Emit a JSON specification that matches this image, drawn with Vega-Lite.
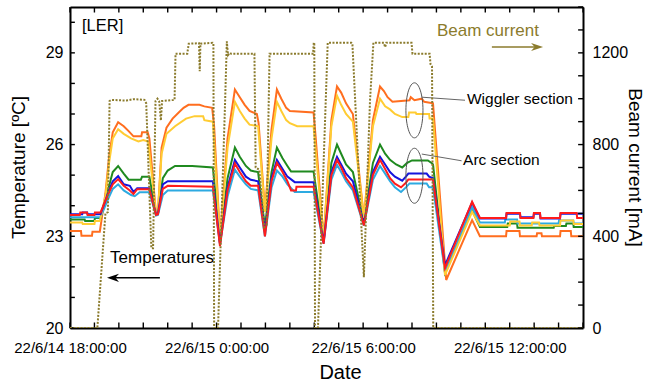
{
  "$schema": "https://vega.github.io/schema/vega-lite/v6.json",
  "width": 513,
  "height": 321,
  "autosize": {"type": "none"},
  "padding": {"left": 70, "top": 7, "right": 62, "bottom": 60},
  "background": "white",
  "config": {
    "font": "Liberation Sans",
    "view": {"stroke": null},
    "axis": {
      "grid": false, "domainColor": "#000", "domainWidth": 2,
      "labelFont": "Liberation Sans", "labelColor": "#000",
      "titleFont": "Liberation Sans", "titleColor": "#000", "titleFontWeight": "normal",
      "zindex": 1, "labelFlush": false
    }
  },
  "datasets": {
    "temps": [
      {"s":"orange","h":0,"T":23.17},{"s":"orange","h":0.45,"T":23.17},{"s":"orange","h":0.47,"T":23.02},{"s":"orange","h":0.9,"T":23.02},{"s":"orange","h":0.92,"T":23.15},{"s":"orange","h":1.22,"T":23.15},{"s":"orange","h":1.45,"T":24.4},{"s":"orange","h":1.6,"T":25.6},{"s":"orange","h":1.75,"T":26.4},{"s":"orange","h":1.97,"T":26.73},{"s":"orange","h":2.2,"T":26.6},{"s":"orange","h":2.4,"T":26.44},{"s":"orange","h":2.6,"T":26.27},{"s":"orange","h":2.92,"T":26.27},{"s":"orange","h":2.95,"T":26.4},{"s":"orange","h":3.18,"T":26.4},{"s":"orange","h":3.25,"T":26.2},{"s":"orange","h":3.52,"T":23.75},{"s":"orange","h":3.6,"T":23.8},{"s":"orange","h":3.75,"T":25.9},{"s":"orange","h":3.95,"T":26.55},{"s":"orange","h":4.2,"T":26.85},{"s":"orange","h":4.45,"T":27.05},{"s":"orange","h":4.65,"T":27.2},{"s":"orange","h":4.85,"T":27.3},{"s":"orange","h":5.3,"T":27.3},{"s":"orange","h":5.5,"T":27.25},{"s":"orange","h":5.82,"T":27.2},{"s":"orange","h":5.9,"T":26.6},{"s":"orange","h":6.14,"T":22.9},{"s":"orange","h":6.45,"T":26.2},{"s":"orange","h":6.75,"T":27.8},{"s":"orange","h":6.95,"T":27.55},{"s":"orange","h":7.15,"T":27.3},{"s":"orange","h":7.35,"T":27.1},{"s":"orange","h":7.65,"T":27.0},{"s":"orange","h":7.72,"T":26.7},{"s":"orange","h":7.98,"T":23.85},{"s":"orange","h":8.25,"T":26.5},{"s":"orange","h":8.47,"T":27.8},{"s":"orange","h":8.65,"T":27.5},{"s":"orange","h":8.85,"T":27.2},{"s":"orange","h":9.0,"T":27.1},{"s":"orange","h":9.97,"T":27.05},{"s":"orange","h":10.05,"T":26.3},{"s":"orange","h":10.38,"T":22.9},{"s":"orange","h":10.7,"T":26.8},{"s":"orange","h":10.93,"T":27.9},{"s":"orange","h":11.1,"T":27.7},{"s":"orange","h":11.3,"T":27.35},{"s":"orange","h":11.5,"T":27.1},{"s":"orange","h":11.58,"T":27.0},{"s":"orange","h":12.03,"T":23.6},{"s":"orange","h":12.4,"T":26.8},{"s":"orange","h":12.69,"T":27.9},{"s":"orange","h":12.85,"T":27.75},{"s":"orange","h":13.0,"T":27.55},{"s":"orange","h":13.2,"T":27.4},{"s":"orange","h":13.9,"T":27.45},{"s":"orange","h":13.95,"T":27.55},{"s":"orange","h":14.1,"T":27.45},{"s":"orange","h":14.4,"T":27.5},{"s":"orange","h":14.5,"T":27.4},{"s":"orange","h":14.86,"T":27.35},{"s":"orange","h":15.4,"T":21.57},{"s":"orange","h":16.46,"T":23.53},{"s":"orange","h":16.78,"T":23.0},{"s":"orange","h":17.85,"T":23.0},{"s":"orange","h":17.87,"T":23.17},{"s":"orange","h":18.4,"T":23.17},{"s":"orange","h":18.42,"T":23.0},{"s":"orange","h":19.1,"T":23.0},{"s":"orange","h":19.12,"T":23.1},{"s":"orange","h":19.3,"T":23.1},{"s":"orange","h":19.32,"T":23.0},{"s":"orange","h":20.06,"T":23.0},{"s":"orange","h":20.08,"T":23.17},{"s":"orange","h":20.5,"T":23.17},{"s":"orange","h":20.52,"T":23.0},{"s":"orange","h":21,"T":23.0},

      {"s":"green","h":0,"T":23.55},{"s":"green","h":0.6,"T":23.55},{"s":"green","h":0.62,"T":23.5},{"s":"green","h":1.0,"T":23.5},{"s":"green","h":1.02,"T":23.6},{"s":"green","h":1.25,"T":23.6},{"s":"green","h":1.55,"T":24.5},{"s":"green","h":1.75,"T":25.1},{"s":"green","h":1.97,"T":25.3},{"s":"green","h":2.2,"T":25.05},{"s":"green","h":2.4,"T":24.85},{"s":"green","h":2.9,"T":24.85},{"s":"green","h":2.95,"T":24.95},{"s":"green","h":3.25,"T":24.95},{"s":"green","h":3.52,"T":23.72},{"s":"green","h":3.6,"T":23.75},{"s":"green","h":3.8,"T":24.9},{"s":"green","h":4.0,"T":25.15},{"s":"green","h":4.3,"T":25.3},{"s":"green","h":5.0,"T":25.3},{"s":"green","h":5.85,"T":25.25},{"s":"green","h":6.14,"T":22.8},{"s":"green","h":6.45,"T":24.9},{"s":"green","h":6.75,"T":25.9},{"s":"green","h":6.95,"T":25.6},{"s":"green","h":7.2,"T":25.3},{"s":"green","h":7.4,"T":25.15},{"s":"green","h":7.7,"T":25.1},{"s":"green","h":7.98,"T":23.3},{"s":"green","h":8.25,"T":25.1},{"s":"green","h":8.47,"T":25.9},{"s":"green","h":8.7,"T":25.55},{"s":"green","h":8.9,"T":25.3},{"s":"green","h":9.05,"T":25.12},{"s":"green","h":9.97,"T":25.12},{"s":"green","h":10.38,"T":22.85},{"s":"green","h":10.7,"T":25.4},{"s":"green","h":10.93,"T":26.0},{"s":"green","h":11.1,"T":25.7},{"s":"green","h":11.3,"T":25.35},{"s":"green","h":11.58,"T":25.1},{"s":"green","h":12.03,"T":23.45},{"s":"green","h":12.4,"T":25.4},{"s":"green","h":12.69,"T":26.0},{"s":"green","h":12.9,"T":25.7},{"s":"green","h":13.1,"T":25.5},{"s":"green","h":13.35,"T":25.35},{"s":"green","h":13.6,"T":25.25},{"s":"green","h":13.8,"T":25.4},{"s":"green","h":14.0,"T":25.48},{"s":"green","h":14.65,"T":25.48},{"s":"green","h":14.8,"T":25.4},{"s":"green","h":14.86,"T":25.35},{"s":"green","h":15.35,"T":21.8},{"s":"green","h":16.46,"T":23.85},{"s":"green","h":16.78,"T":23.3},{"s":"green","h":17.9,"T":23.3},{"s":"green","h":17.92,"T":23.42},{"s":"green","h":18.3,"T":23.42},{"s":"green","h":18.32,"T":23.28},{"s":"green","h":19.8,"T":23.28},{"s":"green","h":19.82,"T":23.34},{"s":"green","h":20.3,"T":23.34},{"s":"green","h":20.32,"T":23.42},{"s":"green","h":20.6,"T":23.42},{"s":"green","h":20.62,"T":23.3},{"s":"green","h":21,"T":23.3},

      {"s":"lightblue","h":0,"T":23.62},{"s":"lightblue","h":1.25,"T":23.62},{"s":"lightblue","h":1.55,"T":24.2},{"s":"lightblue","h":1.75,"T":24.55},{"s":"lightblue","h":1.97,"T":24.7},{"s":"lightblue","h":2.2,"T":24.5},{"s":"lightblue","h":2.5,"T":24.35},{"s":"lightblue","h":2.65,"T":24.31},{"s":"lightblue","h":2.85,"T":24.44},{"s":"lightblue","h":3.25,"T":24.44},{"s":"lightblue","h":3.52,"T":23.68},{"s":"lightblue","h":3.6,"T":23.7},{"s":"lightblue","h":3.8,"T":24.35},{"s":"lightblue","h":4.0,"T":24.5},{"s":"lightblue","h":5.85,"T":24.5},{"s":"lightblue","h":6.14,"T":22.75},{"s":"lightblue","h":6.45,"T":24.3},{"s":"lightblue","h":6.75,"T":25.18},{"s":"lightblue","h":6.95,"T":24.95},{"s":"lightblue","h":7.2,"T":24.7},{"s":"lightblue","h":7.4,"T":24.55},{"s":"lightblue","h":7.7,"T":24.5},{"s":"lightblue","h":7.98,"T":23.0},{"s":"lightblue","h":8.25,"T":24.6},{"s":"lightblue","h":8.47,"T":25.15},{"s":"lightblue","h":8.7,"T":24.95},{"s":"lightblue","h":8.9,"T":24.7},{"s":"lightblue","h":9.2,"T":24.45},{"s":"lightblue","h":9.97,"T":24.45},{"s":"lightblue","h":10.38,"T":22.75},{"s":"lightblue","h":10.7,"T":24.85},{"s":"lightblue","h":10.93,"T":25.34},{"s":"lightblue","h":11.1,"T":25.1},{"s":"lightblue","h":11.3,"T":24.8},{"s":"lightblue","h":11.58,"T":24.5},{"s":"lightblue","h":12.03,"T":23.35},{"s":"lightblue","h":12.4,"T":24.85},{"s":"lightblue","h":12.69,"T":25.3},{"s":"lightblue","h":12.9,"T":25.05},{"s":"lightblue","h":13.1,"T":24.8},{"s":"lightblue","h":13.3,"T":24.6},{"s":"lightblue","h":13.55,"T":24.45},{"s":"lightblue","h":13.75,"T":24.6},{"s":"lightblue","h":13.9,"T":24.73},{"s":"lightblue","h":14.6,"T":24.73},{"s":"lightblue","h":14.7,"T":24.6},{"s":"lightblue","h":14.86,"T":24.6},{"s":"lightblue","h":15.35,"T":21.83},{"s":"lightblue","h":16.46,"T":23.95},{"s":"lightblue","h":16.78,"T":23.45},{"s":"lightblue","h":17.8,"T":23.45},{"s":"lightblue","h":17.82,"T":23.55},{"s":"lightblue","h":18.3,"T":23.55},{"s":"lightblue","h":18.32,"T":23.42},{"s":"lightblue","h":20.0,"T":23.42},{"s":"lightblue","h":20.02,"T":23.52},{"s":"lightblue","h":20.6,"T":23.52},{"s":"lightblue","h":20.62,"T":23.42},{"s":"lightblue","h":21,"T":23.42},

      {"s":"yellow","h":0,"T":23.45},{"s":"yellow","h":0.5,"T":23.45},{"s":"yellow","h":0.52,"T":23.4},{"s":"yellow","h":1.0,"T":23.4},{"s":"yellow","h":1.02,"T":23.5},{"s":"yellow","h":1.22,"T":23.5},{"s":"yellow","h":1.45,"T":24.3},{"s":"yellow","h":1.6,"T":25.4},{"s":"yellow","h":1.75,"T":26.2},{"s":"yellow","h":1.97,"T":26.5},{"s":"yellow","h":2.2,"T":26.35},{"s":"yellow","h":2.5,"T":26.2},{"s":"yellow","h":2.8,"T":26.1},{"s":"yellow","h":3.0,"T":26.15},{"s":"yellow","h":3.2,"T":26.1},{"s":"yellow","h":3.52,"T":23.75},{"s":"yellow","h":3.6,"T":23.8},{"s":"yellow","h":3.75,"T":25.7},{"s":"yellow","h":3.95,"T":26.35},{"s":"yellow","h":4.3,"T":26.6},{"s":"yellow","h":4.75,"T":26.85},{"s":"yellow","h":5.1,"T":26.93},{"s":"yellow","h":5.45,"T":26.93},{"s":"yellow","h":5.5,"T":26.8},{"s":"yellow","h":5.85,"T":26.75},{"s":"yellow","h":6.14,"T":22.9},{"s":"yellow","h":6.45,"T":25.9},{"s":"yellow","h":6.75,"T":27.4},{"s":"yellow","h":6.95,"T":27.1},{"s":"yellow","h":7.15,"T":26.85},{"s":"yellow","h":7.35,"T":26.65},{"s":"yellow","h":7.7,"T":26.6},{"s":"yellow","h":7.98,"T":23.8},{"s":"yellow","h":8.25,"T":26.2},{"s":"yellow","h":8.47,"T":27.4},{"s":"yellow","h":8.65,"T":27.1},{"s":"yellow","h":8.85,"T":26.8},{"s":"yellow","h":9.0,"T":26.7},{"s":"yellow","h":9.3,"T":26.6},{"s":"yellow","h":9.97,"T":26.6},{"s":"yellow","h":10.38,"T":22.9},{"s":"yellow","h":10.7,"T":26.6},{"s":"yellow","h":10.93,"T":27.6},{"s":"yellow","h":11.1,"T":27.3},{"s":"yellow","h":11.3,"T":27.0},{"s":"yellow","h":11.58,"T":26.75},{"s":"yellow","h":12.03,"T":23.6},{"s":"yellow","h":12.4,"T":26.6},{"s":"yellow","h":12.69,"T":27.5},{"s":"yellow","h":12.9,"T":27.25},{"s":"yellow","h":13.1,"T":27.15},{"s":"yellow","h":13.3,"T":27.0},{"s":"yellow","h":13.6,"T":26.9},{"s":"yellow","h":13.85,"T":26.9},{"s":"yellow","h":13.88,"T":27.05},{"s":"yellow","h":14.15,"T":27.05},{"s":"yellow","h":14.18,"T":27.0},{"s":"yellow","h":14.7,"T":27.0},{"s":"yellow","h":14.72,"T":26.85},{"s":"yellow","h":14.86,"T":26.85},{"s":"yellow","h":15.35,"T":21.73},{"s":"yellow","h":16.46,"T":23.8},{"s":"yellow","h":16.78,"T":23.35},{"s":"yellow","h":18.0,"T":23.35},{"s":"yellow","h":18.02,"T":23.48},{"s":"yellow","h":18.4,"T":23.48},{"s":"yellow","h":18.42,"T":23.35},{"s":"yellow","h":18.9,"T":23.35},{"s":"yellow","h":18.92,"T":23.45},{"s":"yellow","h":19.2,"T":23.45},{"s":"yellow","h":19.22,"T":23.35},{"s":"yellow","h":20.06,"T":23.35},{"s":"yellow","h":20.08,"T":23.52},{"s":"yellow","h":20.6,"T":23.52},{"s":"yellow","h":20.62,"T":23.4},{"s":"yellow","h":21,"T":23.4},

      {"s":"blue","h":0,"T":23.72},{"s":"blue","h":0.5,"T":23.72},{"s":"blue","h":0.52,"T":23.78},{"s":"blue","h":0.7,"T":23.78},{"s":"blue","h":0.72,"T":23.72},{"s":"blue","h":1.25,"T":23.72},{"s":"blue","h":1.55,"T":24.4},{"s":"blue","h":1.75,"T":24.8},{"s":"blue","h":1.97,"T":24.97},{"s":"blue","h":2.2,"T":24.7},{"s":"blue","h":2.45,"T":24.65},{"s":"blue","h":2.6,"T":24.45},{"s":"blue","h":2.75,"T":24.57},{"s":"blue","h":3.25,"T":24.57},{"s":"blue","h":3.52,"T":23.72},{"s":"blue","h":3.6,"T":23.75},{"s":"blue","h":3.8,"T":24.7},{"s":"blue","h":4.0,"T":24.8},{"s":"blue","h":5.85,"T":24.8},{"s":"blue","h":6.14,"T":22.75},{"s":"blue","h":6.45,"T":24.6},{"s":"blue","h":6.75,"T":25.5},{"s":"blue","h":6.95,"T":25.25},{"s":"blue","h":7.2,"T":24.95},{"s":"blue","h":7.4,"T":24.85},{"s":"blue","h":7.7,"T":24.8},{"s":"blue","h":7.98,"T":23.15},{"s":"blue","h":8.25,"T":24.9},{"s":"blue","h":8.47,"T":25.5},{"s":"blue","h":8.7,"T":25.2},{"s":"blue","h":8.9,"T":24.95},{"s":"blue","h":9.2,"T":24.77},{"s":"blue","h":9.97,"T":24.77},{"s":"blue","h":10.38,"T":22.8},{"s":"blue","h":10.7,"T":25.1},{"s":"blue","h":10.93,"T":25.6},{"s":"blue","h":11.1,"T":25.35},{"s":"blue","h":11.3,"T":25.05},{"s":"blue","h":11.58,"T":24.8},{"s":"blue","h":12.03,"T":23.4},{"s":"blue","h":12.4,"T":25.1},{"s":"blue","h":12.69,"T":25.6},{"s":"blue","h":12.9,"T":25.35},{"s":"blue","h":13.1,"T":25.1},{"s":"blue","h":13.3,"T":24.95},{"s":"blue","h":13.6,"T":24.82},{"s":"blue","h":13.75,"T":24.95},{"s":"blue","h":13.85,"T":25.05},{"s":"blue","h":14.6,"T":25.05},{"s":"blue","h":14.7,"T":24.95},{"s":"blue","h":14.86,"T":24.9},{"s":"blue","h":15.35,"T":22.05},{"s":"blue","h":16.46,"T":24.1},{"s":"blue","h":16.78,"T":23.58},{"s":"blue","h":17.85,"T":23.58},{"s":"blue","h":17.87,"T":23.74},{"s":"blue","h":18.42,"T":23.74},{"s":"blue","h":18.44,"T":23.62},{"s":"blue","h":18.97,"T":23.62},{"s":"blue","h":18.99,"T":23.74},{"s":"blue","h":19.24,"T":23.74},{"s":"blue","h":19.26,"T":23.58},{"s":"blue","h":20.06,"T":23.58},{"s":"blue","h":20.08,"T":23.74},{"s":"blue","h":21,"T":23.74},

      {"s":"red","h":0,"T":23.7},{"s":"red","h":0.4,"T":23.7},{"s":"red","h":0.42,"T":23.78},{"s":"red","h":0.7,"T":23.78},{"s":"red","h":0.72,"T":23.7},{"s":"red","h":1.0,"T":23.7},{"s":"red","h":1.02,"T":23.78},{"s":"red","h":1.25,"T":23.78},{"s":"red","h":1.55,"T":24.35},{"s":"red","h":1.75,"T":24.7},{"s":"red","h":1.97,"T":24.87},{"s":"red","h":2.2,"T":24.65},{"s":"red","h":2.45,"T":24.5},{"s":"red","h":2.6,"T":24.38},{"s":"red","h":2.75,"T":24.54},{"s":"red","h":3.25,"T":24.54},{"s":"red","h":3.52,"T":23.7},{"s":"red","h":3.6,"T":23.72},{"s":"red","h":3.8,"T":24.55},{"s":"red","h":4.0,"T":24.65},{"s":"red","h":5.85,"T":24.62},{"s":"red","h":6.14,"T":22.68},{"s":"red","h":6.45,"T":24.5},{"s":"red","h":6.75,"T":25.38},{"s":"red","h":6.95,"T":25.1},{"s":"red","h":7.2,"T":24.8},{"s":"red","h":7.4,"T":24.65},{"s":"red","h":7.7,"T":24.65},{"s":"red","h":7.98,"T":23.0},{"s":"red","h":8.25,"T":24.8},{"s":"red","h":8.47,"T":25.4},{"s":"red","h":8.7,"T":25.1},{"s":"red","h":8.9,"T":24.8},{"s":"red","h":9.05,"T":24.5},{"s":"red","h":9.25,"T":24.5},{"s":"red","h":9.27,"T":24.62},{"s":"red","h":9.97,"T":24.62},{"s":"red","h":10.38,"T":22.75},{"s":"red","h":10.7,"T":25.0},{"s":"red","h":10.93,"T":25.5},{"s":"red","h":11.1,"T":25.25},{"s":"red","h":11.3,"T":24.9},{"s":"red","h":11.58,"T":24.6},{"s":"red","h":12.03,"T":23.35},{"s":"red","h":12.4,"T":25.0},{"s":"red","h":12.69,"T":25.5},{"s":"red","h":12.9,"T":25.2},{"s":"red","h":13.1,"T":24.9},{"s":"red","h":13.3,"T":24.72},{"s":"red","h":13.55,"T":24.6},{"s":"red","h":13.75,"T":24.75},{"s":"red","h":13.85,"T":24.86},{"s":"red","h":14.86,"T":24.86},{"s":"red","h":15.35,"T":21.96},{"s":"red","h":16.46,"T":24.13},{"s":"red","h":16.78,"T":23.6},{"s":"red","h":17.85,"T":23.6},{"s":"red","h":17.87,"T":23.76},{"s":"red","h":18.42,"T":23.76},{"s":"red","h":18.44,"T":23.6},{"s":"red","h":18.97,"T":23.6},{"s":"red","h":18.99,"T":23.76},{"s":"red","h":19.24,"T":23.76},{"s":"red","h":19.26,"T":23.6},{"s":"red","h":20.06,"T":23.6},{"s":"red","h":20.08,"T":23.76},{"s":"red","h":20.74,"T":23.76},{"s":"red","h":20.76,"T":23.6},{"s":"red","h":21,"T":23.6}
    ],
    "beam": [
      {"h":0,"I":0},{"h":1.12,"I":0},{"h":1.45,"I":500},{"h":1.55,"I":505},{"h":1.62,"I":990},{"h":1.7,"I":995},{"h":2.3,"I":992},{"h":2.6,"I":998},{"h":3.05,"I":995},{"h":3.12,"I":980},{"h":3.33,"I":348},{"h":3.4,"I":348},{"h":3.5,"I":990},{"h":3.58,"I":1000},{"h":3.65,"I":990},{"h":3.72,"I":905},{"h":3.77,"I":990},{"h":4.28,"I":995},{"h":4.32,"I":1196},{"h":4.8,"I":1196},{"h":4.86,"I":1240},{"h":5.28,"I":1242},{"h":5.31,"I":1120},{"h":5.34,"I":1240},{"h":5.84,"I":1244},{"h":5.87,"I":1240},{"h":5.9,"I":0},{"h":6.06,"I":0},{"h":6.35,"I":990},{"h":6.42,"I":1250},{"h":6.47,"I":1190},{"h":6.55,"I":1200},{"h":6.6,"I":1196},{"h":7.55,"I":1196},{"h":7.6,"I":700},{"h":7.75,"I":690},{"h":7.95,"I":440},{"h":8.05,"I":450},{"h":8.12,"I":900},{"h":8.17,"I":1196},{"h":9.95,"I":1196},{"h":9.98,"I":1245},{"h":10.0,"I":1240},{"h":10.03,"I":0},{"h":10.15,"I":0},{"h":10.55,"I":1244},{"h":11.52,"I":1244},{"h":11.56,"I":1240},{"h":12.03,"I":222},{"h":12.28,"I":990},{"h":12.42,"I":1244},{"h":12.85,"I":1244},{"h":12.9,"I":1225},{"h":12.95,"I":1244},{"h":13.98,"I":1244},{"h":14.02,"I":1196},{"h":14.72,"I":1196},{"h":14.76,"I":1150},{"h":14.82,"I":1140},{"h":14.87,"I":0},{"h":21,"I":0}
    ]
  },
  "layer": [
    {
      "layer": [
        {
          "data": {"name": "temps"},
          "mark": {"type": "line", "strokeWidth": 2, "clip": true},
          "encoding": {
            "x": {"field": "h", "type": "quantitative",
              "scale": {"domain": [0, 21], "nice": false, "zero": false},
              "axis": {"orient": "bottom", "values": [0, 6, 12, 18],
                "labelExpr": "datum.value == 0 ? '22/6/14 18:00:00' : datum.value == 6 ? '22/6/15 0:00:00' : datum.value == 12 ? '22/6/15 6:00:00' : '22/6/15 12:00:00'",
                "ticks": false, "labelOverlap": false, "labelFlush": false,
                "labelFontSize": 15, "labelPadding": 12,
                "title": "Date", "titleFontSize": 20, "titleX": 270, "titleY": 50, "titleBaseline": "alphabetic", "titleAlign": "center"}},
            "y": {"field": "T", "type": "quantitative",
              "scale": {"domain": [20, 30.5], "nice": false, "zero": false},
              "axis": {"orient": "left", "values": [20, 23, 26, 29], "format": "d",
                "ticks": false, "labelOverlap": false,
                "labelFontSize": 16, "labelPadding": 7,
                "title": "Temperature [ºC]", "titleFontSize": 19, "titleX": -46, "titleY": 160, "titleAngle": -90, "titleBaseline": "alphabetic", "titleAlign": "center"}},
            "color": {"field": "s", "type": "nominal",
              "scale": {"domain": ["orange","green","lightblue","yellow","blue","red"],
                        "range": ["#FF6E1F","#1F8A1F","#2DAAE1","#FFCC33","#1515DD","#FF1C1C"]},
              "legend": null}
          }
        },
        {
          "data": {"values": [{"h":0},{"h":1},{"h":2},{"h":3},{"h":4},{"h":5},{"h":6},{"h":7},{"h":8},{"h":9},{"h":10},{"h":11},{"h":12},{"h":13},{"h":14},{"h":15},{"h":16},{"h":17},{"h":18},{"h":19},{"h":20},{"h":21}]},
          "mark": {"type": "rule", "color": "#000", "strokeWidth": 1.4},
          "encoding": {"x": {"field": "h", "type": "quantitative"}, "y": {"datum": 20}, "y2": {"datum": 20.18}}
        },
        {
          "data": {"values": [{"h":0},{"h":1},{"h":2},{"h":3},{"h":4},{"h":5},{"h":6},{"h":7},{"h":8},{"h":9},{"h":10},{"h":11},{"h":12},{"h":13},{"h":14},{"h":15},{"h":16},{"h":17},{"h":18},{"h":19},{"h":20},{"h":21}]},
          "mark": {"type": "rule", "color": "#000", "strokeWidth": 1.4},
          "encoding": {"x": {"field": "h", "type": "quantitative"}, "y": {"datum": 30.5}, "y2": {"datum": 30.32}}
        },
        {
          "data": {"values": [{"T":20},{"T":21},{"T":22},{"T":23},{"T":24},{"T":25},{"T":26},{"T":27},{"T":28},{"T":29},{"T":30}]},
          "mark": {"type": "rule", "color": "#000", "strokeWidth": 1.4},
          "encoding": {"y": {"field": "T", "type": "quantitative"}, "x": {"datum": 0}, "x2": {"datum": 0.2}}
        },
        {
          "data": {"values": [{}]},
          "mark": {"type": "point", "shape": "M0,-1A0.31,1,0,1,1,0,1A0.31,1,0,1,1,0,-1Z", "size": 3025, "filled": false, "stroke": "#555", "strokeWidth": 1, "opacity": 1},
          "encoding": {"x": {"datum": 14.1}, "y": {"datum": 27.12}}
        },
        {
          "data": {"values": [{}]},
          "mark": {"type": "point", "shape": "M0,-1A0.31,1,0,1,1,0,1A0.31,1,0,1,1,0,-1Z", "size": 3025, "filled": false, "stroke": "#555", "strokeWidth": 1, "opacity": 1},
          "encoding": {"x": {"datum": 14.1}, "y": {"datum": 24.98}}
        },
        {
          "data": {"values": [{}]},
          "mark": {"type": "rule", "color": "#666", "strokeWidth": 1},
          "encoding": {"x": {"datum": 14.4}, "x2": {"datum": 16.17}, "y": {"datum": 27.55}, "y2": {"datum": 27.45}}
        },
        {
          "data": {"values": [{}]},
          "mark": {"type": "rule", "color": "#666", "strokeWidth": 1},
          "encoding": {"x": {"datum": 14.4}, "x2": {"datum": 16.03}, "y": {"datum": 25.69}, "y2": {"datum": 25.47}}
        },
        {
          "data": {"values": [{"label": "[LER]"}]},
          "mark": {"type": "text", "align": "left", "baseline": "middle", "fontSize": 16.5, "color": "#000"},
          "encoding": {"x": {"datum": 0.49}, "y": {"datum": 29.89}, "text": {"field": "label"}}
        },
        {
          "data": {"values": [{"label": "Beam current"}]},
          "mark": {"type": "text", "align": "left", "baseline": "middle", "fontSize": 17, "color": "#8B7B2C"},
          "encoding": {"x": {"datum": 15.02}, "y": {"datum": 29.71}, "text": {"field": "label"}}
        },
        {
          "data": {"values": [{"label": "Wiggler section"}]},
          "mark": {"type": "text", "align": "left", "baseline": "middle", "fontSize": 15.5, "color": "#000"},
          "encoding": {"x": {"datum": 16.25}, "y": {"datum": 27.48}, "text": {"field": "label"}}
        },
        {
          "data": {"values": [{"label": "Arc section"}]},
          "mark": {"type": "text", "align": "left", "baseline": "middle", "fontSize": 15.5, "color": "#000"},
          "encoding": {"x": {"datum": 16.09}, "y": {"datum": 25.5}, "text": {"field": "label"}}
        },
        {
          "data": {"values": [{"label": "Temperatures"}]},
          "mark": {"type": "text", "align": "left", "baseline": "middle", "fontSize": 17, "color": "#000"},
          "encoding": {"x": {"datum": 1.64}, "y": {"datum": 22.29}, "text": {"field": "label"}}
        },
        {
          "data": {"values": [{}]},
          "mark": {"type": "rule", "color": "#8B7B2C", "strokeWidth": 1.5},
          "encoding": {"x": {"datum": 17.27}, "x2": {"datum": 19.12}, "y": {"datum": 29.19}}
        },
        {
          "data": {"values": [{}]},
          "mark": {"type": "point", "shape": "M1,0L-1,-0.67L-0.4,0L-1,0.67Z", "size": 144, "filled": true, "color": "#8B7B2C", "opacity": 1},
          "encoding": {"x": {"datum": 19.12}, "y": {"datum": 29.19}}
        },
        {
          "data": {"values": [{}]},
          "mark": {"type": "rule", "color": "#000", "strokeWidth": 1.5},
          "encoding": {"x": {"datum": 1.76}, "x2": {"datum": 3.68}, "y": {"datum": 21.64}}
        },
        {
          "data": {"values": [{}]},
          "mark": {"type": "point", "shape": "M-1,0L1,-0.67L0.4,0L1,0.67Z", "size": 144, "filled": true, "color": "#000", "opacity": 1},
          "encoding": {"x": {"datum": 1.76}, "y": {"datum": 21.64}}
        }
      ]
    },
    {
      "layer": [
        {
          "data": {"name": "beam"},
          "mark": {"type": "line", "color": "#8B7B2C", "strokeWidth": 2, "strokeDash": [2, 1.5], "clip": true},
          "encoding": {
            "x": {"field": "h", "type": "quantitative",
              "scale": {"domain": [0, 21], "nice": false, "zero": false},
              "axis": {"orient": "top", "values": [0, 6, 12, 18], "labels": false, "ticks": false, "title": null}},
            "y": {"field": "I", "type": "quantitative",
              "scale": {"domain": [0, 1400], "nice": false, "zero": true},
              "axis": {"orient": "right", "values": [0, 400, 800, 1200], "format": "d",
                "ticks": false, "labelOverlap": false,
                "labelFontSize": 16, "labelPadding": 9,
                "title": "Beam current [mA]", "titleFontSize": 19, "titleX": 45, "titleY": 160, "titleAngle": 90, "titleBaseline": "alphabetic", "titleAlign": "center"}}
          }
        },
        {
          "data": {"values": [{"I":0},{"I":100},{"I":200},{"I":300},{"I":400},{"I":500},{"I":600},{"I":700},{"I":800},{"I":900},{"I":1000},{"I":1100},{"I":1200},{"I":1300},{"I":1400}]},
          "mark": {"type": "rule", "color": "#000", "strokeWidth": 1.4},
          "encoding": {"y": {"field": "I", "type": "quantitative"}, "x": {"datum": 21}, "x2": {"datum": 20.8}}
        }
      ]
    }
  ],
  "resolve": {"scale": {"y": "independent"}, "axis": {"x": "independent", "y": "independent"}}
}
